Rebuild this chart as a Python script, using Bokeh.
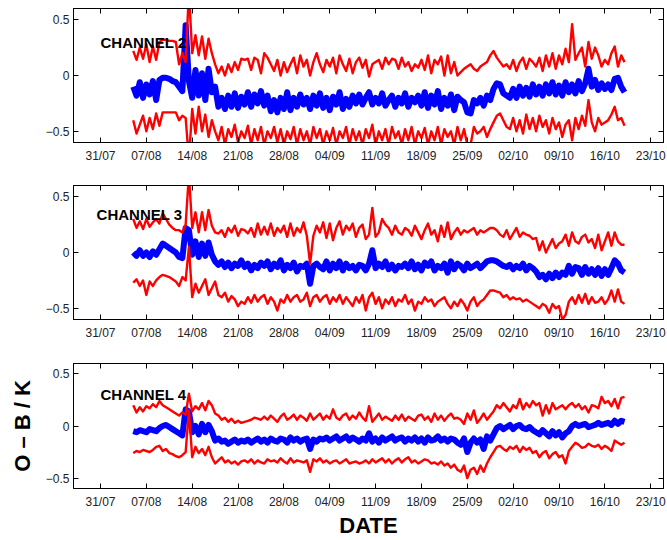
import pandas as pd
from bokeh.plotting import figure
from bokeh.layouts import column
from bokeh.models import (Range1d, FixedTicker, DatetimeTickFormatter, LinearAxis,
                          DatetimeAxis, Label)
from bokeh.embed import file_html
from bokeh.resources import INLINE

# ---------------- data (12-hourly, 05/08 00h .. 19/10 00h) ----------------
START_DATE = "2007-08-05"
N_POINTS = 151
STEP = "12h"
TICK_START = "2007-07-31"
N_TICKS = 13
Y_TICKS = [-0.5, 0.0, 0.5]
Y_TICK_LABELS = ["\u22120.5", "0", "0.5"]
CHANNELS = ["CHANNEL 2", "CHANNEL 3", "CHANNEL 4"]

mean2 = [-0.10, -0.18, -0.06, -0.20, -0.08, -0.17, -0.05, -0.22, -0.04, -0.02,
         -0.02, -0.03, -0.05, -0.06, -0.10, -0.14, 0.45, -0.05, -0.20, 0.05,
         -0.18, 0.02, -0.22, 0.06, -0.15, -0.10, -0.28, -0.20, -0.30, -0.18,
         -0.28, -0.16, -0.29, -0.19, -0.26, -0.15, -0.28, -0.17, -0.25, -0.14,
         -0.27, -0.18, -0.32, -0.22, -0.33, -0.20, -0.30, -0.15, -0.31, -0.20,
         -0.28, -0.17, -0.26, -0.20, -0.30, -0.18, -0.27, -0.16, -0.29, -0.20,
         -0.31, -0.19, -0.26, -0.15, -0.30, -0.21, -0.28, -0.18, -0.25, -0.17,
         -0.26, -0.20, -0.15, -0.26, -0.20, -0.25, -0.16, -0.27, -0.22, -0.18,
         -0.28, -0.20, -0.25, -0.16, -0.28, -0.20, -0.24, -0.18, -0.27, -0.15,
         -0.29, -0.18, -0.26, -0.14, -0.30, -0.20, -0.27, -0.17, -0.31, -0.19,
         -0.22, -0.24, -0.33, -0.34, -0.22, -0.25, -0.20, -0.27, -0.18, -0.22,
         -0.12, -0.07, -0.08, -0.16, -0.18, -0.20, -0.12, -0.20, -0.10, -0.18,
         -0.11, -0.19, -0.08, -0.17, -0.10, -0.18, -0.08, -0.16, -0.06, -0.17,
         -0.09, -0.18, -0.06, -0.15, -0.08, -0.16, -0.05, -0.14, -0.07, 0.06,
         -0.10, -0.04, -0.13, -0.07, -0.12, -0.08, -0.13, -0.03, -0.02, -0.10,
         -0.15]
upper2 = [0.22, 0.14, 0.25, 0.15, 0.28, 0.12, 0.26, 0.14, 0.30, 0.32,
          0.32, 0.31, 0.31, 0.30, 0.10, 0.20, 0.12, 0.75, 0.20, 0.36,
          0.18, 0.35, 0.15, 0.33, 0.20, 0.10, 0.02, 0.08, 0.00, 0.10,
          0.03, 0.12, 0.05, 0.15, 0.14, 0.15, 0.05, 0.16, 0.14, 0.02,
          0.20, 0.16, 0.10, 0.04, 0.14, 0.00, 0.12, 0.03, 0.10, 0.16,
          0.02, 0.18, 0.08, 0.14, 0.00, 0.12, 0.20, 0.10, 0.03, 0.14,
          0.08, 0.16, 0.02, 0.18, 0.10, 0.04, 0.15, 0.02, 0.12, 0.16,
          0.07, 0.14, -0.01, 0.10, 0.12, 0.14, 0.06, 0.16, 0.10, 0.15,
          0.14, 0.06, 0.16, 0.08, 0.12, 0.04, 0.10, 0.07, 0.14, 0.05,
          0.18, 0.02, 0.14, 0.10, 0.17, 0.00, 0.18, 0.02, 0.12, 0.00,
          0.03, 0.06, 0.08, 0.10, 0.06, 0.04, 0.08, 0.10, 0.12, 0.18,
          0.22, 0.16, 0.12, 0.08, 0.10, 0.06, 0.14, 0.04, 0.12, 0.16,
          0.06, 0.15, 0.12, 0.08, 0.16, 0.04, 0.18, 0.08, 0.20, 0.06,
          0.18, 0.10, 0.24, 0.12, 0.46, 0.14, 0.20, 0.25, 0.08, 0.30,
          0.15, 0.25, 0.18, 0.08, 0.14, 0.10, 0.20, 0.26, 0.08, 0.18,
          0.12]
lower2 = [-0.40, -0.52, -0.44, -0.36, -0.50, -0.38, -0.48, -0.34, -0.45, -0.33,
          -0.33, -0.33, -0.33, -0.33, -0.40, -0.36, -0.38, -0.75, -0.30, -0.52,
          -0.28, -0.50, -0.35, -0.55, -0.40, -0.50, -0.58, -0.46, -0.62, -0.48,
          -0.55, -0.44, -0.60, -0.50, -0.56, -0.45, -0.62, -0.48, -0.58, -0.46,
          -0.62, -0.50, -0.56, -0.46, -0.60, -0.48, -0.62, -0.50, -0.57, -0.46,
          -0.62, -0.48, -0.58, -0.50, -0.62, -0.46, -0.56, -0.48, -0.62, -0.50,
          -0.58, -0.47, -0.62, -0.50, -0.56, -0.46, -0.62, -0.48, -0.58, -0.50,
          -0.62, -0.48, -0.56, -0.44, -0.62, -0.50, -0.58, -0.48, -0.62, -0.46,
          -0.56, -0.50, -0.62, -0.48, -0.58, -0.46, -0.62, -0.50, -0.56, -0.47,
          -0.62, -0.50, -0.58, -0.46, -0.62, -0.48, -0.55, -0.50, -0.62, -0.46,
          -0.58, -0.48, -0.62, -0.62, -0.46, -0.52, -0.50, -0.46, -0.55, -0.48,
          -0.42, -0.36, -0.34, -0.40, -0.46, -0.48, -0.38, -0.50, -0.40, -0.52,
          -0.35, -0.48, -0.38, -0.50, -0.36, -0.46, -0.40, -0.52, -0.38, -0.48,
          -0.42, -0.55, -0.44, -0.40, -0.58, -0.38, -0.48, -0.36, -0.45, -0.22,
          -0.42, -0.50, -0.38, -0.44, -0.42, -0.40, -0.35, -0.28, -0.40, -0.38,
          -0.45]

mean3 = [0.00, -0.03, 0.02, -0.03, 0.00, -0.04, 0.01, -0.02, 0.03, 0.08,
         0.06, 0.04, 0.02, 0.00, -0.04, -0.05, 0.22, 0.20, -0.02, 0.10,
         -0.04, 0.08, -0.03, 0.09, -0.02, -0.08, -0.11, -0.08, -0.13, -0.09,
         -0.14, -0.10, -0.12, -0.07, -0.13, -0.10, -0.16, -0.11, -0.14, -0.09,
         -0.12, -0.08, -0.15, -0.10, -0.13, -0.07, -0.16, -0.11, -0.14, -0.09,
         -0.17, -0.12, -0.13, -0.10, -0.28, -0.12, -0.10, -0.13, -0.15, -0.08,
         -0.16, -0.10, -0.14, -0.08, -0.16, -0.10, -0.14, -0.12, -0.16, -0.11,
         -0.12, -0.16, -0.10, 0.02, -0.14, -0.10, -0.13, -0.08, -0.15, -0.11,
         -0.16, -0.12, -0.13, -0.10, -0.14, -0.08, -0.15, -0.11, -0.16, -0.09,
         -0.12, -0.08, -0.16, -0.12, -0.14, -0.10, -0.18, -0.08, -0.15, -0.10,
         -0.12, -0.16, -0.10, -0.14, -0.12, -0.10, -0.14, -0.11, -0.08, -0.07,
         -0.07, -0.08, -0.10, -0.12, -0.13, -0.11, -0.15, -0.12, -0.14, -0.10,
         -0.16, -0.12, -0.14, -0.17, -0.22, -0.20, -0.24, -0.19, -0.23, -0.18,
         -0.22, -0.18, -0.20, -0.12, -0.19, -0.13, -0.14, -0.20, -0.13, -0.19,
         -0.15, -0.20, -0.14, -0.21, -0.15, -0.20, -0.14, -0.07, -0.10, -0.16,
         -0.18]
upper3 = [0.30, 0.22, 0.28, 0.21, 0.30, 0.23, 0.27, 0.30, 0.26, 0.35,
          0.30, 0.25, 0.22, 0.20, 0.20, 0.18, 0.25, 0.70, 0.22, 0.36,
          0.18, 0.36, 0.20, 0.38, 0.24, 0.18, 0.17, 0.20, 0.14, 0.22,
          0.18, 0.24, 0.15, 0.21, 0.20, 0.17, 0.22, 0.14, 0.26, 0.16,
          0.23, 0.16, 0.26, 0.15, 0.22, 0.18, 0.24, 0.14, 0.26, 0.15,
          0.22, 0.18, 0.27, 0.15, -0.10, 0.15, 0.24, 0.18, 0.27, 0.13,
          0.26, 0.11, 0.22, 0.28, 0.16, 0.24, 0.20, 0.26, 0.14, 0.22,
          0.25, 0.12, 0.16, 0.40, 0.14, 0.18, 0.30, 0.25, 0.22, 0.16,
          0.24, 0.18, 0.16, 0.22, 0.20, 0.15, 0.24, 0.18, 0.12, 0.20,
          0.26, 0.16, 0.20, 0.10, 0.24, 0.14, 0.27, 0.12, 0.18, 0.22,
          0.16, 0.20, 0.18, 0.20, 0.22, 0.16, 0.20, 0.18, 0.20, 0.22,
          0.22, 0.20, 0.16, 0.14, 0.20, 0.12, 0.17, 0.22, 0.14, 0.18,
          0.16, 0.15, 0.12, 0.13, 0.02, 0.10, 0.00, 0.06, 0.12, 0.04,
          0.08, 0.10, 0.16, 0.06, 0.18, 0.10, 0.08, 0.14, 0.16, 0.09,
          0.12, 0.04, 0.16, 0.02, 0.10, 0.18, 0.06, 0.18, 0.10, 0.07,
          0.07]
lower3 = [-0.27, -0.24, -0.30, -0.25, -0.38, -0.26, -0.30, -0.25, -0.22, -0.20,
          -0.21, -0.22, -0.24, -0.26, -0.30, -0.22, -0.25, 0.05, -0.40, -0.28,
          -0.36, -0.30, -0.24, -0.38, -0.32, -0.26, -0.38, -0.40, -0.36, -0.44,
          -0.39, -0.42, -0.48, -0.44, -0.46, -0.40, -0.45, -0.38, -0.44, -0.40,
          -0.38, -0.46, -0.40, -0.44, -0.52, -0.42, -0.45, -0.38, -0.44, -0.40,
          -0.38, -0.44, -0.42, -0.36, -0.48, -0.40, -0.38, -0.44, -0.40, -0.38,
          -0.46, -0.40, -0.44, -0.38, -0.46, -0.40, -0.44, -0.48, -0.40, -0.45,
          -0.38, -0.52, -0.40, -0.36, -0.46, -0.40, -0.50, -0.42, -0.46, -0.40,
          -0.48, -0.42, -0.44, -0.38, -0.46, -0.42, -0.52, -0.44, -0.46, -0.40,
          -0.44, -0.42, -0.48, -0.44, -0.42, -0.40, -0.46, -0.50, -0.44, -0.48,
          -0.42, -0.46, -0.52, -0.44, -0.40, -0.48, -0.44, -0.42, -0.38, -0.34,
          -0.34, -0.35, -0.36, -0.40, -0.38, -0.42, -0.40, -0.42, -0.41, -0.44,
          -0.42, -0.44, -0.46, -0.48, -0.50, -0.46, -0.48, -0.54, -0.46, -0.50,
          -0.48, -0.60, -0.56, -0.44, -0.40, -0.46, -0.38, -0.45, -0.37, -0.46,
          -0.40, -0.45, -0.44, -0.40, -0.46, -0.42, -0.34, -0.44, -0.33, -0.44,
          -0.46]

mean4 = [-0.05, -0.06, -0.04, -0.05, -0.06, -0.03, -0.04, -0.05, -0.02, 0.00,
         0.01, -0.01, -0.03, -0.05, -0.07, -0.09, 0.16, 0.14, -0.06, 0.00,
         -0.08, 0.02, -0.06, 0.01, -0.05, -0.14, -0.12, -0.15, -0.14, -0.17,
         -0.15, -0.13, -0.16, -0.14, -0.15, -0.13, -0.16, -0.14, -0.12, -0.15,
         -0.13, -0.16, -0.12, -0.14, -0.15, -0.12, -0.13, -0.16, -0.11, -0.14,
         -0.12, -0.15, -0.13, -0.12, -0.22, -0.13, -0.15, -0.12, -0.13, -0.11,
         -0.14, -0.12, -0.10, -0.14, -0.12, -0.10, -0.14, -0.11, -0.13, -0.15,
         -0.12, -0.14, -0.07, -0.15, -0.12, -0.16, -0.11, -0.14, -0.12, -0.10,
         -0.14, -0.12, -0.11, -0.15, -0.12, -0.14, -0.11, -0.15, -0.12, -0.16,
         -0.11, -0.14, -0.13, -0.10, -0.14, -0.12, -0.15, -0.12, -0.13, -0.16,
         -0.18, -0.12, -0.25, -0.16, -0.12, -0.16, -0.13, -0.22, -0.10, -0.14,
         -0.08, -0.02, 0.00, -0.03, -0.01, 0.01, -0.03, 0.00, 0.01, -0.02,
         -0.03, -0.01, -0.04, -0.06, -0.08, -0.04, -0.07, -0.10, -0.05, -0.09,
         -0.06, -0.11, -0.07, -0.05, 0.00, 0.02, 0.00, 0.01, 0.02, -0.01,
         0.00, 0.01, 0.03, 0.01, 0.02, 0.03, 0.01, 0.05, 0.02, 0.05,
         0.04]
upper4 = [0.20, 0.13, 0.18, 0.14, 0.19, 0.17, 0.21, 0.18, 0.24, 0.20,
          0.18, 0.16, 0.14, 0.12, 0.10, 0.13, 0.11, 0.31, 0.14, 0.19,
          0.16, 0.22, 0.15, 0.24, 0.20, 0.12, 0.10, 0.06, 0.08, 0.04,
          0.07, 0.03, 0.05, 0.03, 0.04, 0.05, 0.06, 0.08, 0.07, 0.06,
          0.09, 0.06, 0.10, 0.07, 0.04, 0.09, 0.12, 0.06, 0.08, 0.11,
          0.06, 0.10, 0.08, 0.05, 0.12, 0.06, 0.09, 0.12, 0.06, 0.10,
          0.07, 0.16, 0.08, 0.06, 0.10, 0.12, 0.06, 0.10, 0.07, 0.13,
          0.08, 0.05, 0.19, 0.04, 0.08, 0.12, 0.06, 0.09, 0.07, 0.05,
          0.10, 0.06, 0.11, 0.05, 0.09, 0.07, 0.05, 0.10, 0.11, 0.06,
          0.09, 0.04, 0.12, 0.06, 0.10, 0.05, 0.09, 0.12, 0.07, 0.08,
          0.06, 0.02, 0.12, 0.06, 0.15, 0.03, 0.07, 0.12, 0.06, 0.10,
          0.14, 0.20, 0.17, 0.22, 0.18, 0.14, 0.20, 0.17, 0.26, 0.16,
          0.22, 0.18, 0.24, 0.20, 0.22, 0.10, 0.20, 0.12, 0.22, 0.16,
          0.18, 0.20, 0.16, 0.20, 0.22, 0.18, 0.21, 0.16, 0.19, 0.13,
          0.20, 0.19, 0.17, 0.28, 0.22, 0.24, 0.19, 0.26, 0.17, 0.27,
          0.28]
lower4 = [-0.26, -0.24, -0.25, -0.23, -0.24, -0.25, -0.23, -0.20, -0.19, -0.24,
          -0.22, -0.26, -0.27, -0.29, -0.30, -0.28, -0.25, 0.15, -0.30, -0.20,
          -0.26, -0.22, -0.28, -0.20, -0.30, -0.36, -0.33, -0.30, -0.35, -0.33,
          -0.36, -0.34, -0.37, -0.34, -0.33, -0.35, -0.32, -0.36, -0.33, -0.35,
          -0.36, -0.32, -0.34, -0.33, -0.35, -0.31, -0.34, -0.36, -0.31, -0.35,
          -0.33, -0.34, -0.35, -0.33, -0.44, -0.32, -0.34, -0.31, -0.35, -0.33,
          -0.36, -0.34, -0.33, -0.36, -0.34, -0.32, -0.36, -0.35, -0.34, -0.36,
          -0.35, -0.33, -0.36, -0.32, -0.35, -0.33, -0.31, -0.35, -0.32, -0.36,
          -0.33, -0.31, -0.35, -0.32, -0.30, -0.35, -0.33, -0.36, -0.34, -0.32,
          -0.33, -0.36, -0.35, -0.37, -0.34, -0.38, -0.36, -0.40, -0.37, -0.42,
          -0.44, -0.38, -0.50, -0.42, -0.40, -0.46, -0.38, -0.44, -0.36, -0.30,
          -0.25, -0.20, -0.19, -0.22, -0.24, -0.20, -0.22, -0.19, -0.25, -0.20,
          -0.23, -0.21, -0.26, -0.24, -0.30, -0.26, -0.24, -0.31, -0.27, -0.25,
          -0.30, -0.28, -0.36, -0.24, -0.20, -0.16, -0.18, -0.21, -0.20, -0.17,
          -0.19, -0.20, -0.18, -0.22, -0.19, -0.21, -0.24, -0.14, -0.16, -0.18,
          -0.16]

# ---------------- helpers ----------------
DAY = 86400000.0
times = pd.date_range(START_DATE, periods=N_POINTS, freq=STEP)
tick_dates = pd.date_range(TICK_START, periods=N_TICKS, freq="7D")


def ms(ts):
    return ts.value / 1e6


tick_ms = [ms(t) for t in tick_dates]
x_start = tick_ms[0] - 4.12 * DAY
x_end = tick_ms[-1] + 1.95 * DAY

FONT = "Liberation Sans"
fmt = "%d/%m"


def make_formatter():
    return DatetimeTickFormatter(microseconds=fmt, milliseconds=fmt, seconds=fmt,
                                 minsec=fmt, minutes=fmt, hourmin=fmt, hours=fmt,
                                 days=fmt, months=fmt, years=fmt,
                                 strip_leading_zeros=False)


def style_axis(ax, labels=True):
    ax.axis_line_color = "black"
    ax.major_tick_line_color = "black"
    ax.major_tick_in = 5
    ax.major_tick_out = 0
    ax.minor_tick_line_color = None
    if labels:
        ax.major_label_text_font = FONT
        ax.major_label_text_font_size = "12px"
        ax.major_label_text_color = "#222222"
    else:
        ax.major_label_text_font_size = "0px"
        ax.major_label_text_color = None
        ax.major_label_standoff = 0


def make_panel(height, bottom, mean, upper, lower, name, label_x_days, label_y,
               xlabel=None, ylabel=None):
    p = figure(width=667, height=height, x_axis_type="datetime",
               x_range=Range1d(x_start, x_end), y_range=Range1d(-0.6, 0.6),
               output_backend="svg", toolbar_location=None,
               min_border_left=73, min_border_right=4, min_border_top=8,
               min_border_bottom=bottom)
    p.xgrid.visible = False
    p.ygrid.visible = False
    p.outline_line_color = "black"
    p.outline_line_alpha = 1.0
    p.background_fill_color = "white"
    p.border_fill_color = "white"

    xa = p.xaxis[0]
    xa.ticker = FixedTicker(ticks=tick_ms, minor_ticks=[])
    xa.formatter = make_formatter()
    style_axis(xa)
    xa.major_label_standoff = 6

    ya = p.yaxis[0]
    ya.ticker = FixedTicker(ticks=Y_TICKS, minor_ticks=[])
    ya.major_label_overrides = {t: l for t, l in zip(Y_TICKS, Y_TICK_LABELS)}
    style_axis(ya)
    ya.major_label_standoff = 4

    top = DatetimeAxis(ticker=FixedTicker(ticks=tick_ms, minor_ticks=[]))
    style_axis(top, labels=False)
    p.add_layout(top, "above")
    right = LinearAxis(ticker=FixedTicker(ticks=Y_TICKS, minor_ticks=[]))
    style_axis(right, labels=False)
    p.add_layout(right, "right")

    if xlabel:
        xa.axis_label = xlabel
        xa.axis_label_text_font = FONT
        xa.axis_label_text_font_style = "bold"
        xa.axis_label_text_font_size = "22px"
        xa.axis_label_text_color = "black"
        xa.axis_label_standoff = 1
    if ylabel:
        ya.axis_label = ylabel
        ya.axis_label_text_font = FONT
        ya.axis_label_text_font_style = "bold"
        ya.axis_label_text_font_size = "22px"
        ya.axis_label_text_color = "black"
        ya.axis_label_standoff = 8

    p.line(times, mean, line_color="#0000ff", line_width=6, line_join="round")
    p.line(times, upper, line_color="#ff0000", line_width=2.4, line_join="round")
    p.line(times, lower, line_color="#ff0000", line_width=2.4, line_join="round")

    p.add_layout(Label(x=tick_ms[0] + label_x_days * DAY, y=label_y, text=name,
                       text_font=FONT, text_font_style="bold", text_font_size="15px",
                       text_color="black", text_baseline="alphabetic"))
    return p


p1 = make_panel(177, 35, mean2, upper2, lower2, CHANNELS[0], 0.0, 0.295)
p2 = make_panel(178, 36, mean3, upper3, lower3, CHANNELS[1], -0.6, 0.34)
p3 = make_panel(185, 44, mean4, upper4, lower4, CHANNELS[2], 0.0, 0.30,
                xlabel="DATE", ylabel="O \u2013 B / K")

layout = column(p1, p2, p3, spacing=0)
open("out.html", "w").write(file_html(layout, INLINE))
